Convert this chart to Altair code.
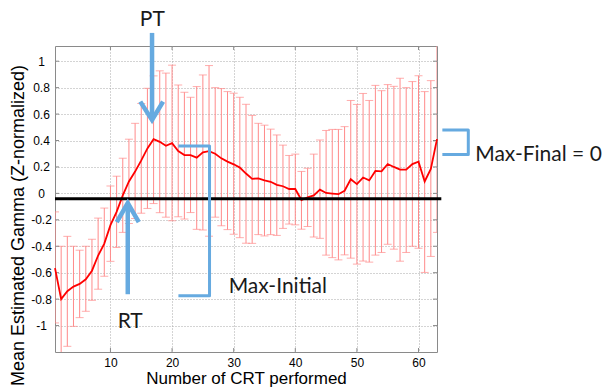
import altair as alt
import pandas as pd

# ---------------- data ----------------
crt = list(range(1, 64))
mean_gamma = [-0.565, -0.80, -0.74, -0.705, -0.685, -0.65, -0.585, -0.47, -0.38, -0.24,
              -0.14, -0.015, 0.09, 0.165, 0.25, 0.34, 0.41, 0.39, 0.36, 0.38,
              0.32, 0.29, 0.29, 0.27, 0.31, 0.32, 0.30, 0.265, 0.24, 0.22,
              0.195, 0.15, 0.11, 0.114, 0.098, 0.088, 0.064, 0.054, 0.033, 0.033,
              -0.05, -0.03, -0.015, 0.028, 0.003, -0.002, -0.006, 0.02, 0.107, 0.07,
              0.12, 0.098, 0.17, 0.167, 0.222, 0.20, 0.18, 0.18, 0.222, 0.24,
              0.09, 0.185, 0.41]
upper = [-0.14, -0.40, -0.325, -0.40, -0.43, -0.40, -0.347, -0.187, -0.111, 0.056,
         0.13, 0.266, 0.41, 0.53, 0.68, 0.795, 0.889, 0.927, 0.91, 0.97,
         0.82, 0.765, 0.727, 0.808, 0.896, 0.967, 0.80, 0.793, 0.77, 0.758,
         0.727, 0.674, 0.59, 0.53, 0.516, 0.486, 0.442, 0.365, 0.287, 0.297,
         0.166, 0.19, 0.297, 0.404, 0.476, 0.484, 0.484, 0.505, 0.703, 0.673,
         0.756, 0.703, 0.817, 0.777, 0.823, 0.81, 0.871, 0.80, 0.846, 0.89,
         0.77, 0.853, 1.12]
lower = [-0.98, -1.21, -1.157, -1.006, -0.94, -0.892, -0.809, -0.725, -0.627, -0.514,
         -0.409, -0.295, -0.228, -0.19, -0.15, -0.114, -0.077, -0.146, -0.18, -0.207,
         -0.177, -0.194, -0.145, -0.272, -0.277, -0.324, -0.18, -0.245, -0.274, -0.309,
         -0.335, -0.377, -0.378, -0.312, -0.322, -0.312, -0.318, -0.265, -0.232, -0.238,
         -0.271, -0.25, -0.33, -0.34, -0.467, -0.486, -0.503, -0.465, -0.49, -0.535,
         -0.512, -0.52, -0.467, -0.447, -0.385, -0.422, -0.513, -0.447, -0.40, -0.415,
         -0.598, -0.477, -0.295]

x_ticks = [10, 20, 30, 40, 50, 60]
y_ticks = [-1, -0.8, -0.6, -0.4, -0.2, 0, 0.2, 0.4, 0.6, 0.8, 1]

# reference (black) line
ref_level = [-0.04]
ref_x_start = [1]
ref_x_end = [63.7]

# annotation geometry (data units)
arrow_shape = ["PT", "PT", "PT", "PTs", "PTs", "RT", "RT", "RT", "RTs", "RTs"]
arrow_step = [0, 1, 2, 0, 1, 0, 1, 2, 0, 1]
arrow_x = [14.84, 16.75, 18.54, 16.75, 16.75, 11.02, 12.81, 14.6, 12.81, 12.81]
arrow_y = [0.694, 0.555, 0.694, 1.214, 0.58, -0.217, -0.073, -0.217, -0.763, -0.09]

bracket_shape = ["init"] * 4 + ["final"] * 4
bracket_step = [0, 1, 2, 3, 0, 1, 2, 3]
bracket_x = [21.03, 26.08, 26.08, 21.03, 63.87, 68.08, 68.08, 63.87]
bracket_y = [0.358, 0.358, -0.774, -0.774, 0.48, 0.48, 0.295, 0.295]

center_labels = ["PT", "RT"]
center_label_x = [16.8, 13.2]
center_label_y = [1.313, -0.971]
left_labels = ["Max-Initial", "Max-Final = 0"]
left_label_x = [29.18, 69.2]
left_label_y = [-0.706, 0.29]

# ---------------- chart ----------------
W, H = 382, 306
AXIS_FONT = "Liberation Sans"
ANNO_FONT = "Lato"
BLUE = "#66aae0"
PINK = "#ff8a8a"

df = pd.DataFrame({"crt": crt, "mean": mean_gamma, "upper": upper, "lower": lower})
xs = alt.Scale(domain=[1, 63], nice=False, zero=False)
ys = alt.Scale(domain=[-1.2, 1.115], nice=False, zero=False)

x_axis = alt.Axis(values=x_ticks, title="Number of CRT performed",
                  grid=True, gridDash=[1, 2], gridColor="#a8a8a8", gridWidth=1,
                  ticks=False, tickSize=0, domain=False,
                  labelFont=AXIS_FONT, labelFontSize=12, labelColor="#000000",
                  labelOverlap=False, labelFlush=False, labelPadding=5,
                  titleFont=AXIS_FONT, titleFontWeight="normal", titleColor="#000000",
                  titleX=191, titleY=31, titleBaseline="alphabetic", titleFontSize=17)
y_axis = alt.Axis(values=y_ticks, title="Mean Estimated Gamma (Z-normalized)",
                  grid=True, gridDash=[1, 2], gridColor="#a8a8a8", gridWidth=1,
                  ticks=False, tickSize=0, domain=False,
                  labelFont=AXIS_FONT, labelFontSize=12, labelColor="#000000",
                  labelOverlap=False, labelFlush=False,
                  labelExpr="toString(round(datum.value*10)/10)",
                  labelAlign="center", labelBaseline="middle", labelPadding=14,
                  titleFont=AXIS_FONT, titleFontWeight="normal", titleColor="#000000",
                  titleFontSize=18, titleAngle=270, titleX=-37, titleY=179,
                  titleBaseline="middle", titleAlign="center")


def X(field):
    return alt.X(field, scale=xs, axis=x_axis)


def Y(field):
    return alt.Y(field, scale=ys, axis=y_axis)


bars = alt.Chart(df).mark_rule(color=PINK, strokeWidth=1, clip=True).encode(
    x=X("crt:Q"), y=Y("lower:Q"), y2="upper:Q",
)
caps_hi = alt.Chart(df).mark_tick(color=PINK, thickness=1, size=8,
                                  orient="horizontal", clip=True).encode(
    x=X("crt:Q"), y=Y("upper:Q"),
)
caps_lo = alt.Chart(df).mark_tick(color=PINK, thickness=1, size=8,
                                  orient="horizontal", clip=True).encode(
    x=X("crt:Q"), y=Y("lower:Q"),
)
mean_line = alt.Chart(df).mark_line(color="#ff0000", strokeWidth=1.8).encode(
    x=X("crt:Q"), y=Y("mean:Q"),
)

ref_df = pd.DataFrame({"level": ref_level, "xs": ref_x_start, "xe": ref_x_end})
ref_line = alt.Chart(ref_df).mark_rule(color="#000000", strokeWidth=3).encode(
    x=X("xs:Q"), x2="xe:Q", y=Y("level:Q"),
)

# inward box ticks (MATLAB style)
xt_df = pd.DataFrame({"t": x_ticks})
yt_df = pd.DataFrame({"t": y_ticks})
tick_col = "#8a8a8a"
xt_bottom = alt.Chart(xt_df).mark_rule(color=tick_col).encode(
    x=X("t:Q"), y=alt.value(H), y2=alt.value(H - 4))
xt_top = alt.Chart(xt_df).mark_rule(color=tick_col).encode(
    x=X("t:Q"), y=alt.value(0), y2=alt.value(4))
yt_left = alt.Chart(yt_df).mark_rule(color=tick_col).encode(
    y=Y("t:Q"), x=alt.value(0), x2=alt.value(4))
yt_right = alt.Chart(yt_df).mark_rule(color=tick_col).encode(
    y=Y("t:Q"), x=alt.value(W), x2=alt.value(W - 4))

arrow_df = pd.DataFrame({"shape": arrow_shape, "step": arrow_step,
                         "x": arrow_x, "y": arrow_y})
arrows = alt.Chart(arrow_df).mark_line(color=BLUE, strokeWidth=4.5,
                                       strokeJoin="miter", strokeCap="butt").encode(
    x=X("x:Q"), y=Y("y:Q"), detail="shape:N", order="step:Q",
)
bracket_df = pd.DataFrame({"shape": bracket_shape, "step": bracket_step,
                           "x": bracket_x, "y": bracket_y})
brackets = alt.Chart(bracket_df).mark_line(color=BLUE, strokeWidth=3,
                                           strokeJoin="round").encode(
    x=X("x:Q"), y=Y("y:Q"), detail="shape:N", order="step:Q",
)

cl_df = pd.DataFrame({"label": center_labels, "x": center_label_x, "y": center_label_y})
center_text = alt.Chart(cl_df).mark_text(font=ANNO_FONT, fontSize=21, color="#1a1a1a",
                                         align="center", baseline="middle").encode(
    x=X("x:Q"), y=Y("y:Q"), text="label:N",
)
ll_df = pd.DataFrame({"label": left_labels, "x": left_label_x, "y": left_label_y})
left_text = alt.Chart(ll_df).mark_text(font=ANNO_FONT, fontSize=21, color="#1a1a1a",
                                       align="left", baseline="middle").encode(
    x=X("x:Q"), y=Y("y:Q"), text="label:N",
)

chart = alt.layer(
    bars, caps_hi, caps_lo, xt_bottom, xt_top, yt_left, yt_right,
    mean_line, ref_line, arrows, brackets, center_text, left_text,
).properties(
    width=W, height=H,
    autosize=alt.AutoSizeParams(type="none"),
    padding={"left": 55, "top": 46, "right": 167, "bottom": 36},
    background="#ffffff",
).configure_view(
    stroke="#8a8a8a", strokeWidth=1,
)

chart.save("out.html", embed_options={"renderer": "svg", "actions": False})
